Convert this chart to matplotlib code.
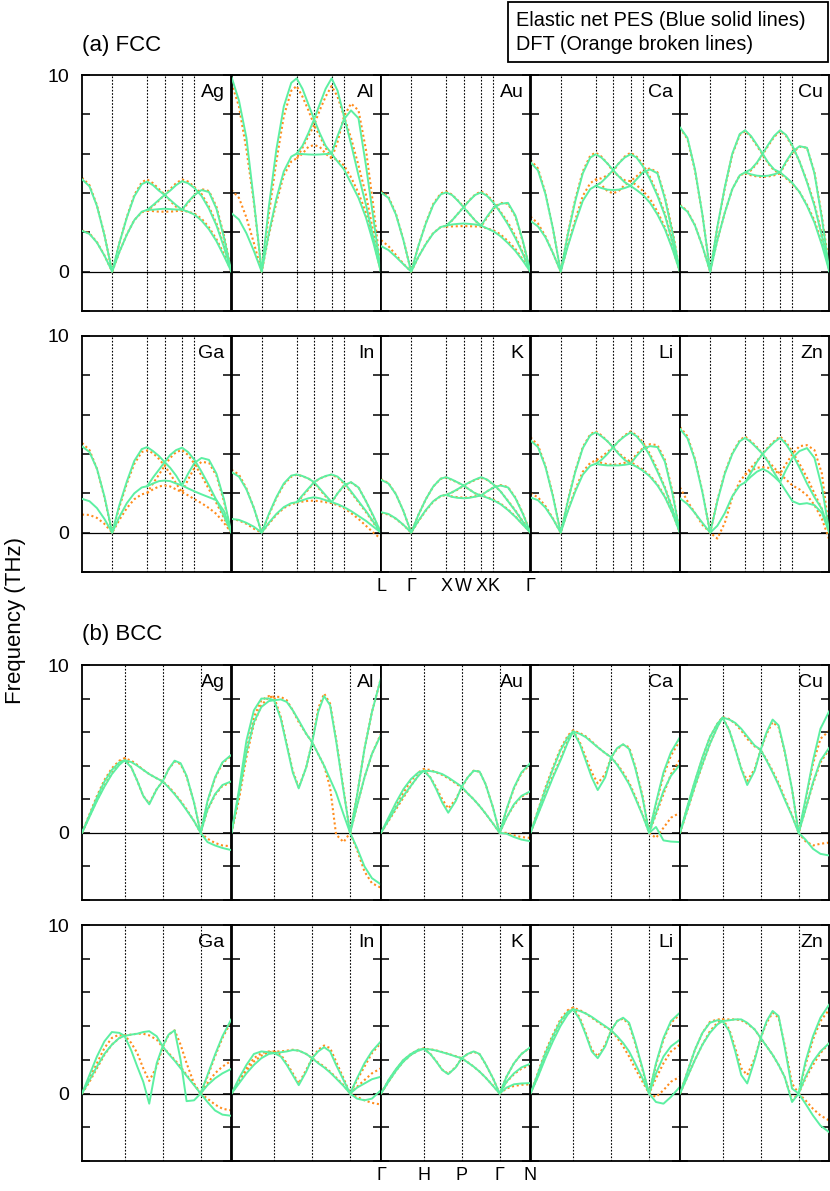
import matplotlib
matplotlib.use("Agg")
import matplotlib.pyplot as plt
import numpy as np
from matplotlib.patches import Rectangle

plt.rcParams["font.family"] = ["Liberation Sans", "DejaVu Sans"]

# k-path positions (fraction of the path length) and labels
FCC_TICKS = [0.0, 0.202, 0.436, 0.553, 0.670, 0.753, 1.0]
FCC_LABELS = ["L", "Γ", "X", "W", "X", "K", "Γ"]
BCC_TICKS = [0.0, 0.285, 0.54, 0.794, 1.0]
BCC_LABELS = ["Γ", "H", "P", "Γ", "N"]

# sampled q positions: L-Γ | Γ-X | X-W-X | X-K-Γ
FCC_Q = [0.0, 0.05, 0.10, 0.15, 0.202,
         0.25, 0.30, 0.35, 0.40, 0.436,
         0.475, 0.515, 0.553, 0.59, 0.63, 0.67,
         0.71, 0.753, 0.80, 0.85, 0.90, 0.95, 1.0]
# Γ-H | H-P | P-Γ | Γ-N
BCC_Q = [0.0, 0.05, 0.10, 0.15, 0.20, 0.25, 0.285,
         0.33, 0.37, 0.41, 0.45, 0.50, 0.54,
         0.58, 0.62, 0.66, 0.70, 0.75, 0.794,
         0.84, 0.89, 0.94, 1.0]

# Frequencies (THz). Each entry: branch A, branch B (full path), branch C (from X / from Γ->N)
FCC_AG_EN = [
    [4.7, 4.34, 3.34, 1.86, 0, 1.45, 2.75, 3.83, 4.45, 4.58, 4.40, 4.12, 3.9, 3.65, 3.38, 3.15, 3.55, 3.9, 4.15, 4.05, 3.2, 1.75, 0],
    [2.08, 1.92, 1.48, 0.82, 0, 1.0, 1.88, 2.62, 3.05, 3.14, 3.38, 3.65, 3.9, 4.12, 4.40, 4.6, 4.5, 4.25, 3.85, 3.2, 2.35, 1.25, 0],
    [3.14, 3.15, 3.18, 3.2, 3.18, 3.16, 3.15, 3.05, 2.9, 2.6, 2.15, 1.55, 0.8, 0],
]
FCC_AG_DFT = [
    [4.78, 4.4, 3.38, 1.88, 0, 1.45, 2.78, 3.9, 4.55, 4.69, 4.5, 4.2, 3.92, 3.6, 3.3, 3.1, 3.5, 3.9, 4.2, 4.1, 3.3, 1.85, 0],
    [2.1, 1.95, 1.5, 0.83, 0, 1.0, 1.9, 2.62, 3.02, 3.1, 3.33, 3.62, 3.92, 4.2, 4.5, 4.69, 4.58, 4.3, 3.95, 3.3, 2.45, 1.35, 0],
    [3.1, 3.08, 3.05, 3.05, 3.05, 3.08, 3.1, 3.05, 2.95, 2.7, 2.25, 1.65, 0.9, 0],
]
FCC_AL_EN = [
    [9.9, 8.7, 6.8, 3.6, 0, 3.3, 6.2, 8.4, 9.6, 9.83, 9.3, 8.5, 7.75, 7.05, 6.4, 6.0, 6.9, 7.75, 8.2, 7.8, 5.4, 2.7, 0],
    [2.97, 2.65, 1.95, 1.05, 0, 1.95, 3.7, 5.1, 5.85, 6.0, 6.4, 7.05, 7.75, 8.5, 9.3, 9.83, 9.2, 7.9, 6.5, 4.9, 3.4, 1.7, 0],
    [6.0, 5.98, 5.96, 5.95, 5.96, 5.98, 6.0, 5.6, 5.2, 4.5, 3.75, 2.75, 1.45, 0],
]
FCC_AL_DFT = [
    [9.58, 8.4, 6.2, 3.5, 0, 2.9, 5.6, 7.9, 9.2, 9.44, 8.9, 8.2, 7.46, 6.9, 6.3, 5.76, 6.6, 7.9, 8.55, 8.2, 6.2, 3.3, 0],
    [4.15, 3.75, 2.75, 1.45, 0, 1.85, 3.5, 4.9, 5.6, 5.76, 6.3, 6.9, 7.46, 8.2, 8.9, 9.44, 8.9, 7.9, 6.8, 5.4, 3.9, 2.0, 0],
    [5.76, 6.0, 6.35, 6.44, 6.35, 6.0, 5.76, 5.7, 5.4, 4.8, 4.0, 3.0, 1.6, 0],
]
FCC_AU_EN = [
    [4.03, 3.75, 2.9, 1.6, 0, 1.3, 2.45, 3.4, 3.93, 4.03, 3.9, 3.6, 3.27, 2.95, 2.6, 2.34, 2.8, 3.25, 3.45, 3.5, 2.85, 1.55, 0],
    [1.3, 1.1, 0.75, 0.38, 0, 0.75, 1.4, 1.95, 2.27, 2.34, 2.6, 2.95, 3.27, 3.6, 3.9, 4.03, 3.85, 3.5, 3.0, 2.4, 1.7, 0.9, 0],
    [2.34, 2.4, 2.43, 2.45, 2.43, 2.4, 2.34, 2.2, 2.05, 1.8, 1.45, 1.05, 0.55, 0],
]
FCC_AU_DFT = [
    [4.1, 3.8, 2.95, 1.62, 0, 1.3, 2.48, 3.45, 3.98, 4.08, 3.92, 3.62, 3.3, 2.95, 2.6, 2.3, 2.75, 3.2, 3.5, 3.45, 2.8, 1.5, 0],
    [1.6, 1.3, 0.85, 0.4, 0, 0.75, 1.42, 1.97, 2.27, 2.32, 2.6, 2.95, 3.3, 3.62, 3.92, 4.08, 3.9, 3.55, 3.05, 2.5, 1.8, 0.95, 0],
    [2.29, 2.3, 2.31, 2.32, 2.31, 2.3, 2.29, 2.2, 2.1, 1.9, 1.55, 1.15, 0.6, 0],
]
FCC_CA_EN = [
    [5.56, 5.15, 3.95, 2.2, 0, 1.9, 3.6, 5.0, 5.8, 5.97, 5.8, 5.5, 5.17, 4.85, 4.55, 4.36, 4.7, 5.05, 5.2, 5.0, 3.7, 2.0, 0],
    [2.58, 2.3, 1.75, 0.95, 0, 1.3, 2.5, 3.6, 4.2, 4.36, 4.55, 4.85, 5.17, 5.5, 5.8, 5.97, 5.8, 5.35, 4.7, 3.85, 2.85, 1.5, 0],
    [4.36, 4.25, 4.17, 4.15, 4.17, 4.25, 4.36, 4.15, 3.9, 3.5, 2.9, 2.15, 1.15, 0],
]
FCC_CA_DFT = [
    [5.68, 5.25, 4.0, 2.2, 0, 1.95, 3.7, 5.1, 5.9, 6.05, 5.85, 5.5, 5.1, 4.85, 4.65, 4.6, 4.85, 5.15, 5.25, 5.05, 3.8, 2.1, 0],
    [2.8, 2.45, 1.8, 0.95, 0, 1.35, 2.65, 3.85, 4.5, 4.69, 4.75, 4.9, 5.1, 5.5, 5.85, 6.05, 5.85, 5.45, 4.8, 3.95, 2.95, 1.6, 0],
    [4.69, 4.4, 4.1, 3.98, 4.1, 4.4, 4.6, 4.4, 4.1, 3.7, 3.05, 2.25, 1.2, 0],
]
FCC_CU_EN = [
    [7.34, 6.8, 5.2, 2.9, 0, 2.28, 4.3, 6.0, 7.0, 7.19, 6.9, 6.45, 6.0, 5.55, 5.2, 5.05, 5.6, 6.1, 6.38, 6.3, 5.0, 2.7, 0],
    [3.36, 3.05, 2.35, 1.3, 0, 1.6, 3.0, 4.2, 4.9, 5.05, 5.2, 5.55, 6.0, 6.45, 6.9, 7.19, 6.95, 6.4, 5.6, 4.55, 3.35, 1.8, 0],
    [5.05, 4.95, 4.88, 4.86, 4.88, 4.95, 5.05, 4.8, 4.5, 4.05, 3.35, 2.5, 1.35, 0],
]
FCC_CU_DFT = [
    [7.3, 6.75, 5.15, 2.9, 0, 2.25, 4.25, 5.95, 6.95, 7.15, 6.85, 6.4, 5.95, 5.5, 5.15, 5.0, 5.55, 6.05, 6.35, 6.3, 5.05, 2.8, 0.2],
    [3.4, 3.08, 2.37, 1.3, 0, 1.6, 3.0, 4.2, 4.9, 5.0, 5.15, 5.5, 5.95, 6.4, 6.85, 7.15, 6.9, 6.35, 5.6, 4.6, 3.45, 1.9, 0.2],
    [5.0, 4.9, 4.84, 4.82, 4.84, 4.9, 5.0, 4.75, 4.45, 4.05, 3.4, 2.6, 1.45, 0.2],
]
FCC_GA_EN = [
    [4.39, 4.1, 3.25, 1.85, 0, 1.4, 2.6, 3.65, 4.25, 4.35, 4.15, 3.9, 3.59, 3.3, 2.9, 2.4, 3.0, 3.55, 3.8, 3.7, 3.0, 1.7, 0],
    [1.72, 1.6, 1.25, 0.7, 0, 0.8, 1.5, 2.0, 2.3, 2.36, 2.8, 3.2, 3.59, 3.95, 4.2, 4.32, 4.1, 3.7, 3.1, 2.4, 1.65, 0.85, 0],
    [2.36, 2.5, 2.62, 2.65, 2.62, 2.5, 2.4, 2.25, 2.1, 1.95, 1.8, 1.65, 1.1, 0],
]
FCC_GA_DFT = [
    [4.56, 4.2, 3.25, 1.8, 0, 1.3, 2.5, 3.5, 4.1, 4.18, 4.05, 3.75, 3.4, 3.0, 2.5, 2.05, 2.7, 3.3, 3.6, 3.55, 2.9, 1.6, 0],
    [0.92, 0.9, 0.75, 0.45, 0, 0.65, 1.25, 1.7, 1.95, 2.02, 2.5, 2.95, 3.4, 3.8, 4.1, 4.2, 3.95, 3.5, 2.9, 2.2, 1.5, 0.75, 0],
    [2.02, 2.2, 2.35, 2.4, 2.35, 2.2, 2.05, 1.9, 1.7, 1.5, 1.25, 0.95, 0.5, 0],
]
FCC_IN_EN = [
    [3.08, 2.85, 2.2, 1.25, 0, 0.95, 1.8, 2.5, 2.9, 2.96, 2.88, 2.75, 2.57, 2.25, 1.9, 1.55, 2.0, 2.4, 2.57, 2.3, 1.6, 0.85, 0],
    [0.7, 0.65, 0.5, 0.3, 0, 0.5, 0.95, 1.3, 1.5, 1.55, 1.9, 2.25, 2.57, 2.75, 2.88, 2.96, 2.85, 2.55, 2.1, 1.6, 1.1, 0.55, 0],
    [1.55, 1.65, 1.75, 1.8, 1.75, 1.65, 1.55, 1.45, 1.3, 1.1, 0.85, 0.6, 0.3, 0],
]
FCC_IN_DFT = [
    [3.2, 2.95, 2.25, 1.25, 0, 0.9, 1.75, 2.45, 2.85, 2.95, 2.87, 2.75, 2.55, 2.2, 1.85, 1.52, 2.0, 2.4, 2.55, 2.3, 1.6, 0.8, 0],
    [0.7, 0.62, 0.45, 0.2, 0, 0.45, 0.9, 1.25, 1.45, 1.52, 1.85, 2.2, 2.55, 2.75, 2.87, 2.95, 2.8, 2.5, 2.05, 1.55, 1.05, 0.5, 0],
    [1.52, 1.58, 1.62, 1.63, 1.6, 1.55, 1.5, 1.4, 1.25, 1.0, 0.7, 0.35, 0.0, -0.32],
]
FCC_K_EN = [
    [2.69, 2.5, 1.95, 1.1, 0, 0.9, 1.7, 2.35, 2.75, 2.82, 2.7, 2.55, 2.4, 2.2, 2.0, 1.89, 2.1, 2.3, 2.4, 2.3, 1.75, 0.95, 0],
    [1.04, 0.95, 0.72, 0.4, 0, 0.6, 1.15, 1.6, 1.87, 1.92, 2.05, 2.22, 2.4, 2.55, 2.7, 2.82, 2.7, 2.45, 2.1, 1.6, 1.1, 0.55, 0],
    [1.92, 1.82, 1.77, 1.75, 1.77, 1.83, 1.89, 1.78, 1.65, 1.45, 1.15, 0.8, 0.4, 0],
]
FCC_K_DFT = [
    [2.72, 2.52, 1.96, 1.1, 0, 0.9, 1.7, 2.35, 2.74, 2.8, 2.68, 2.54, 2.38, 2.2, 2.0, 1.9, 2.1, 2.3, 2.42, 2.32, 1.78, 0.98, 0],
    [1.0, 0.92, 0.7, 0.39, 0, 0.58, 1.12, 1.58, 1.86, 1.92, 2.05, 2.2, 2.38, 2.54, 2.68, 2.8, 2.68, 2.45, 2.1, 1.62, 1.12, 0.57, 0],
    [1.92, 1.84, 1.8, 1.78, 1.8, 1.85, 1.9, 1.8, 1.68, 1.48, 1.18, 0.82, 0.42, 0],
]
FCC_LI_EN = [
    [4.69, 4.35, 3.35, 1.85, 0, 1.6, 3.1, 4.3, 4.95, 5.1, 4.9, 4.65, 4.34, 4.0, 3.7, 3.5, 3.9, 4.25, 4.4, 4.35, 3.6, 2.0, 0],
    [1.79, 1.65, 1.27, 0.7, 0, 1.1, 2.1, 2.95, 3.4, 3.5, 3.7, 4.0, 4.34, 4.65, 4.9, 5.1, 4.9, 4.5, 3.9, 3.1, 2.25, 1.2, 0],
    [3.5, 3.45, 3.42, 3.42, 3.42, 3.45, 3.5, 3.35, 3.15, 2.85, 2.4, 1.8, 1.0, 0],
]
FCC_LI_DFT = [
    [4.85, 4.45, 3.4, 1.9, 0, 1.65, 3.15, 4.35, 5.0, 5.15, 4.95, 4.65, 4.35, 4.05, 3.8, 3.6, 4.0, 4.3, 4.5, 4.45, 3.7, 2.1, 0],
    [2.0, 1.8, 1.35, 0.72, 0, 1.15, 2.2, 3.1, 3.55, 3.67, 3.85, 4.1, 4.35, 4.65, 4.95, 5.15, 4.95, 4.6, 4.0, 3.2, 2.3, 1.25, 0],
    [3.67, 3.55, 3.48, 3.45, 3.48, 3.55, 3.6, 3.4, 3.2, 2.9, 2.45, 1.85, 1.0, 0],
]
FCC_ZN_EN = [
    [5.28, 4.8, 3.7, 2.05, 0, 1.6, 3.0, 4.0, 4.65, 4.82, 4.6, 4.3, 4.0, 3.6, 3.05, 2.56, 3.2, 3.8, 4.15, 4.3, 3.8, 2.3, 0],
    [1.75, 1.45, 1.0, 0.5, 0, 0.35, 1.0, 1.85, 2.4, 2.56, 3.05, 3.6, 4.0, 4.3, 4.6, 4.82, 4.5, 4.0, 3.3, 2.5, 1.8, 1.2, 0],
    [2.56, 2.85, 3.1, 3.24, 3.1, 2.85, 2.56, 2.1, 1.6, 1.45, 1.5, 1.4, 1.0, 0],
]
FCC_ZN_DFT = [
    [5.37, 4.9, 3.75, 2.1, 0, 1.65, 3.05, 4.05, 4.7, 4.89, 4.65, 4.35, 4.0, 3.65, 3.3, 2.99, 3.5, 4.0, 4.4, 4.45, 4.2, 3.0, 0],
    [2.3, 1.6, 1.0, 0.4, 0, -0.3, 0.5, 1.8, 2.6, 2.95, 3.3, 3.65, 4.0, 4.35, 4.65, 4.89, 4.6, 4.1, 3.5, 2.8, 2.0, 1.2, 0],
    [2.95, 3.15, 3.3, 3.33, 3.3, 3.15, 2.99, 2.7, 2.4, 2.2, 1.9, 1.4, 0.7, -0.37],
]

BCC_AG_EN = [
    [0, 1.05, 2.1, 3.05, 3.75, 4.2, 4.32, 4.22, 4.0, 3.75, 3.5, 3.25, 3.07, 2.7, 2.3, 1.85, 1.35, 0.7, 0, 1.9, 3.3, 4.2, 4.65],
    [0, 0.95, 1.9, 2.75, 3.5, 4.05, 4.32, 3.9, 3.1, 2.2, 1.7, 2.6, 3.07, 3.8, 4.3, 4.15, 3.4, 1.8, 0, 1.4, 2.3, 2.85, 3.07],
    [0, -0.55, -0.75, -0.9, -1.03],
]
BCC_AG_DFT = [
    [0, 1.1, 2.2, 3.15, 3.85, 4.3, 4.45, 4.3, 4.05, 3.75, 3.5, 3.25, 3.07, 2.75, 2.35, 1.9, 1.4, 0.7, 0, 1.85, 3.25, 4.15, 4.6],
    [0, 1.0, 1.95, 2.8, 3.55, 4.1, 4.45, 3.9, 3.1, 2.2, 1.75, 2.6, 3.07, 3.8, 4.25, 4.1, 3.35, 1.8, 0, 1.35, 2.25, 2.8, 3.0],
    [0, -0.35, -0.6, -0.75, -0.8],
]
BCC_AL_EN = [
    [0, 2.57, 5.5, 7.3, 8.0, 8.0, 7.9, 7.95, 7.8, 7.3, 6.7, 5.9, 5.4, 4.7, 4.0, 3.2, 2.4, 1.1, 0, 2.2, 5.0, 7.2, 9.2],
    [0, 2.3, 4.8, 6.6, 7.5, 7.85, 7.9, 6.8, 5.2, 3.6, 2.65, 3.9, 5.4, 7.2, 8.15, 7.6, 5.5, 2.5, 0, 1.6, 3.3, 4.7, 5.84],
    [0, -0.9, -2.0, -2.7, -3.07],
]
BCC_AL_DFT = [
    [0, 2.2, 4.9, 6.9, 7.9, 8.15, 8.1, 8.1, 7.9, 7.3, 6.6, 5.9, 5.4, 4.7, 4.0, 2.7, -0.1, -0.55, 0, 2.2, 5.0, 7.2, 9.2],
    [0, 2.0, 4.5, 6.5, 7.6, 8.1, 8.1, 6.9, 5.3, 3.7, 2.7, 3.9, 5.4, 7.4, 8.3, 7.7, 5.6, 2.6, 0, 1.6, 3.3, 4.7, 5.9],
    [0, -1.0, -2.3, -3.0, -3.27],
]
BCC_AU_EN = [
    [0, 0.9, 1.8, 2.6, 3.2, 3.6, 3.7, 3.68, 3.62, 3.5, 3.3, 3.0, 2.75, 2.35, 2.0, 1.6, 1.15, 0.55, 0, 1.4, 2.7, 3.6, 4.16],
    [0, 0.75, 1.5, 2.2, 2.8, 3.4, 3.7, 3.3, 2.6, 1.8, 1.2, 1.9, 2.75, 3.3, 3.7, 3.65, 2.9, 1.5, 0, 0.9, 1.7, 2.2, 2.48],
    [0, -0.05, -0.25, -0.4, -0.5],
]
BCC_AU_DFT = [
    [0, 0.8, 1.6, 2.4, 3.1, 3.6, 3.8, 3.75, 3.6, 3.45, 3.25, 2.95, 2.7, 2.35, 2.0, 1.6, 1.15, 0.55, 0, 1.35, 2.65, 3.55, 4.1],
    [0, 0.7, 1.4, 2.1, 2.8, 3.4, 3.8, 3.3, 2.7, 2.0, 1.45, 2.0, 2.7, 3.3, 3.7, 3.65, 2.9, 1.5, 0, 0.9, 1.65, 2.15, 2.45],
    [0, 0.0, -0.15, -0.25, -0.3],
]
BCC_CA_EN = [
    [0, 1.3, 2.6, 3.8, 4.9, 5.7, 6.04, 5.9, 5.7, 5.4, 5.1, 4.75, 4.5, 4.05, 3.5, 2.9, 2.1, 1.05, 0, 1.8, 3.6, 4.8, 5.7],
    [0, 1.1, 2.2, 3.3, 4.3, 5.4, 6.04, 5.3, 4.3, 3.3, 2.55, 3.3, 4.5, 5.05, 5.28, 5.0, 3.9, 2.1, 0, 1.2, 2.5, 3.4, 4.06],
    [0, 0.35, -0.45, -0.52, -0.55],
]
BCC_CA_DFT = [
    [0, 1.35, 2.7, 3.9, 5.0, 5.8, 6.1, 5.95, 5.75, 5.45, 5.1, 4.75, 4.5, 4.1, 3.6, 3.0, 2.2, 1.1, 0, 1.7, 3.4, 4.6, 5.5],
    [0, 1.15, 2.3, 3.4, 4.4, 5.5, 6.1, 5.4, 4.5, 3.6, 2.95, 3.5, 4.5, 5.0, 5.25, 5.1, 4.0, 2.2, 0, 1.1, 2.3, 3.5, 4.36],
    [0, -0.3, 0.3, 0.9, 1.2],
]
BCC_CU_EN = [
    [0, 1.6, 3.1, 4.5, 5.7, 6.5, 6.87, 6.75, 6.55, 6.2, 5.75, 5.2, 4.95, 4.3, 3.6, 2.85, 2.0, 1.0, 0, 2.0, 4.3, 6.2, 7.27],
    [0, 1.4, 2.8, 4.1, 5.3, 6.3, 6.87, 6.1, 5.0, 3.8, 2.85, 3.7, 4.95, 6.0, 6.75, 6.4, 4.9, 2.6, 0, 1.4, 3.0, 4.3, 5.09],
    [0, -0.4, -0.95, -1.25, -1.35],
]
BCC_CU_DFT = [
    [0, 1.55, 3.05, 4.45, 5.7, 6.5, 6.9, 6.78, 6.5, 6.1, 5.6, 5.15, 4.95, 4.35, 3.7, 2.95, 2.1, 1.05, 0, 1.9, 4.1, 5.6, 6.1],
    [0, 1.35, 2.75, 4.05, 5.3, 6.3, 6.9, 6.1, 5.0, 3.85, 3.1, 3.8, 4.95, 5.9, 6.6, 6.3, 4.85, 2.6, 0, 1.4, 2.9, 4.2, 5.0],
    [0, -0.5, -0.75, -0.65, -0.58],
]
BCC_GA_EN = [
    [0, 1.1, 2.2, 3.1, 3.65, 3.6, 3.42, 3.5, 3.55, 3.65, 3.7, 3.4, 2.8, 2.35, 1.95, 1.5, 1.05, 0.5, 0, 1.1, 2.3, 3.4, 4.42],
    [0, 0.8, 1.6, 2.35, 2.9, 3.3, 3.42, 2.55, 1.6, 0.7, -0.6, 1.8, 2.8, 3.5, 3.75, 2.0, -0.45, -0.4, 0, 0.5, 0.9, 1.2, 1.47],
    [0, -0.5, -1.0, -1.25, -1.32],
]
BCC_GA_DFT = [
    [0, 0.9, 1.8, 2.7, 3.3, 3.5, 3.45, 3.5, 3.55, 3.55, 3.45, 3.2, 2.75, 2.4, 2.0, 1.6, 1.1, 0.55, 0, 1.0, 2.2, 3.3, 4.3],
    [0, 0.7, 1.5, 2.3, 2.9, 3.3, 3.45, 3.0, 2.4, 1.5, 0.75, 1.6, 2.75, 3.5, 3.75, 2.9, 1.8, 0.6, 0, 0.6, 1.2, 1.6, 1.95],
    [0, -0.3, -0.65, -0.9, -1.0],
]
BCC_IN_EN = [
    [0, 0.9, 1.7, 2.35, 2.5, 2.45, 2.4, 2.45, 2.5, 2.58, 2.55, 2.35, 2.1, 1.8, 1.55, 1.25, 0.9, 0.45, 0, 0.9, 1.8, 2.5, 3.1],
    [0, 0.6, 1.2, 1.7, 2.1, 2.35, 2.4, 2.2, 1.7, 1.1, 0.5, 1.3, 2.1, 2.5, 2.75, 2.5, 1.7, 0.8, 0, 0.35, 0.6, 0.85, 1.0],
    [0, -0.3, -0.4, -0.3, 0.2],
]
BCC_IN_DFT = [
    [0, 0.8, 1.5, 2.1, 2.4, 2.5, 2.5, 2.5, 2.55, 2.6, 2.55, 2.35, 2.1, 1.85, 1.6, 1.3, 0.95, 0.5, 0, 0.8, 1.6, 2.4, 3.0],
    [0, 0.7, 1.35, 1.9, 2.25, 2.45, 2.5, 2.3, 1.8, 1.2, 0.6, 1.4, 2.1, 2.6, 2.85, 2.7, 1.9, 0.9, 0, 0.4, 0.8, 1.2, 1.5],
    [0, -0.2, -0.4, -0.55, -0.65],
]
BCC_K_EN = [
    [0, 0.8, 1.45, 2.0, 2.35, 2.6, 2.65, 2.62, 2.55, 2.45, 2.35, 2.2, 2.1, 1.85, 1.6, 1.3, 0.95, 0.45, 0, 1.0, 1.8, 2.35, 2.75],
    [0, 0.7, 1.35, 1.9, 2.3, 2.55, 2.65, 2.35, 1.9, 1.4, 1.15, 1.55, 2.1, 2.35, 2.5, 2.35, 1.75, 0.9, 0, 0.7, 1.2, 1.55, 1.77],
    [0, 0.35, 0.55, 0.6, 0.62],
]
BCC_K_DFT = [
    [0, 0.78, 1.42, 1.98, 2.35, 2.6, 2.67, 2.63, 2.56, 2.46, 2.36, 2.22, 2.1, 1.86, 1.6, 1.3, 0.95, 0.47, 0, 1.0, 1.8, 2.35, 2.75],
    [0, 0.7, 1.35, 1.9, 2.3, 2.55, 2.67, 2.36, 1.92, 1.42, 1.17, 1.57, 2.1, 2.35, 2.48, 2.33, 1.75, 0.9, 0, 0.68, 1.15, 1.48, 1.7],
    [0, 0.3, 0.45, 0.52, 0.55],
]
BCC_LI_EN = [
    [0, 1.2, 2.4, 3.4, 4.3, 4.85, 5.0, 4.9, 4.75, 4.55, 4.3, 4.0, 3.75, 3.4, 3.0, 2.5, 1.8, 0.9, 0, 1.8, 3.3, 4.3, 4.8],
    [0, 1.0, 2.1, 3.1, 4.0, 4.7, 5.0, 4.4, 3.5, 2.5, 2.1, 2.8, 3.75, 4.3, 4.5, 4.2, 3.1, 1.5, 0, 1.2, 2.2, 2.8, 3.2],
    [0, -0.5, -0.6, -0.2, 0.4],
]
BCC_LI_DFT = [
    [0, 1.25, 2.5, 3.5, 4.4, 4.95, 5.1, 4.95, 4.75, 4.5, 4.25, 3.95, 3.75, 3.3, 2.8, 2.2, 1.5, 0.7, 0, 1.7, 3.2, 4.2, 4.7],
    [0, 1.05, 2.2, 3.2, 4.1, 4.8, 5.1, 4.5, 3.6, 2.6, 2.2, 2.9, 3.75, 4.3, 4.45, 4.1, 3.0, 1.4, 0, 0.9, 1.8, 2.5, 2.9],
    [0, -0.2, 0.2, 0.7, 1.0],
]
BCC_ZN_EN = [
    [0, 1.3, 2.6, 3.6, 4.2, 4.35, 4.3, 4.35, 4.4, 4.4, 4.2, 3.8, 3.3, 2.8, 2.3, 1.7, 1.0, -0.5, 0, 1.9, 3.4, 4.5, 5.3],
    [0, 1.0, 2.0, 2.9, 3.6, 4.1, 4.3, 3.7, 2.5, 1.1, 0.6, 2.0, 3.3, 4.3, 4.9, 4.6, 2.8, 0.3, 0, 1.0, 1.9, 2.5, 3.0],
    [0, -0.6, -1.3, -1.9, -2.3],
]
BCC_ZN_DFT = [
    [0, 1.3, 2.6, 3.6, 4.25, 4.4, 4.4, 4.4, 4.4, 4.35, 4.15, 3.8, 3.3, 2.8, 2.3, 1.7, 1.0, -0.4, 0, 1.7, 3.2, 4.3, 5.0],
    [0, 1.0, 2.0, 2.9, 3.7, 4.2, 4.4, 3.8, 2.7, 1.5, 1.1, 2.1, 3.3, 4.2, 4.8, 4.5, 2.9, 0.6, 0, 0.9, 1.7, 2.4, 3.0],
    [0, -0.4, -0.9, -1.3, -1.6],
]

ELEMENTS = ["Ag", "Al", "Au", "Ca", "Cu", "Ga", "In", "K", "Li", "Zn"]
FCC_EN = [FCC_AG_EN, FCC_AL_EN, FCC_AU_EN, FCC_CA_EN, FCC_CU_EN,
          FCC_GA_EN, FCC_IN_EN, FCC_K_EN, FCC_LI_EN, FCC_ZN_EN]
FCC_DFT = [FCC_AG_DFT, FCC_AL_DFT, FCC_AU_DFT, FCC_CA_DFT, FCC_CU_DFT,
           FCC_GA_DFT, FCC_IN_DFT, FCC_K_DFT, FCC_LI_DFT, FCC_ZN_DFT]
BCC_EN = [BCC_AG_EN, BCC_AL_EN, BCC_AU_EN, BCC_CA_EN, BCC_CU_EN,
          BCC_GA_EN, BCC_IN_EN, BCC_K_EN, BCC_LI_EN, BCC_ZN_EN]
BCC_DFT = [BCC_AG_DFT, BCC_AL_DFT, BCC_AU_DFT, BCC_CA_DFT, BCC_CU_DFT,
           BCC_GA_DFT, BCC_IN_DFT, BCC_K_DFT, BCC_LI_DFT, BCC_ZN_DFT]

GREEN = "#5cf0a2"
ORANGE = "#ff8c1c"
W_PX, H_PX = 830, 1191
PANEL_LEFT = [82, 231.5, 381, 530.5, 680]
PANEL_W = 149.4
# (top, bottom) of each row in pixels
ROWS = [(75, 311), (336, 572), (665, 900), (925, 1161)]
FS = 14


def add_panel(fig, row, col):
    top, bottom = ROWS[row]
    rect = [PANEL_LEFT[col] / W_PX, 1 - bottom / H_PX, PANEL_W / W_PX, (bottom - top) / H_PX]
    return fig.add_axes(rect)


def draw_branches(ax, q, lines, tail, color, dft):
    qa = np.asarray(q)
    if dft:
        kw = dict(color=color, lw=1.5, linestyle=(0, (1.0, 1.3)), zorder=2)
    else:
        kw = dict(color=color, lw=1.4, solid_capstyle="round", solid_joinstyle="round", zorder=3)
    ax.plot(qa, lines[0], **kw)
    ax.plot(qa, lines[1], **kw)
    ax.plot(qa[tail:], lines[2], **kw)


def style_panel(ax, name, ticks, ylim, first_col):
    ax.set_xlim(0, 1)
    ax.set_ylim(*ylim)
    for t in ticks[1:-1]:
        ax.axvline(t, color="black", lw=0.8, linestyle=(0, (1.5, 1.5)), zorder=1)
    ax.axhline(0, color="black", lw=0.9, zorder=1)
    yt = list(range(ylim[0], 11, 2))
    labels = ["0" if v == 0 else ("10" if v == 10 else "") for v in yt]
    ax.set_yticks(yt)
    if first_col:
        ax.set_yticklabels(labels, fontsize=FS)
    else:
        ax.set_yticklabels([])
    ax.tick_params(axis="y", direction="in", length=5.5, width=1.1, left=True, right=True, pad=9)
    ax.set_xticks([])
    for s in ax.spines.values():
        s.set_linewidth(1.3)
    ax.text(0.955, 0.96, name, transform=ax.transAxes, ha="right", va="top", fontsize=FS, zorder=5)


fig = plt.figure(figsize=(W_PX / 100, H_PX / 100), dpi=100)

for i, name in enumerate(ELEMENTS):
    row, col = divmod(i, 5)
    ax = add_panel(fig, row, col)
    draw_branches(ax, FCC_Q, FCC_DFT[i], 9, ORANGE, True)
    draw_branches(ax, FCC_Q, FCC_EN[i], 9, GREEN, False)
    style_panel(ax, name, FCC_TICKS, (-2, 10), col == 0)
    if row == 1 and col == 2:
        ax.set_xticks(FCC_TICKS)
        ax.set_xticklabels(FCC_LABELS, fontsize=13)
        ax.tick_params(axis="x", length=0, pad=4.5)

for i, name in enumerate(ELEMENTS):
    row, col = divmod(i, 5)
    ax = add_panel(fig, row + 2, col)
    draw_branches(ax, BCC_Q, BCC_DFT[i], 18, ORANGE, True)
    draw_branches(ax, BCC_Q, BCC_EN[i], 18, GREEN, False)
    style_panel(ax, name, BCC_TICKS, (-4, 10), col == 0)
    if row == 1 and col == 2:
        ax.set_xticks(BCC_TICKS)
        ax.set_xticklabels(BCC_LABELS, fontsize=13)
        ax.tick_params(axis="x", length=0, pad=4.5)

fig.text(82 / W_PX, 1 - 45 / H_PX, "(a) FCC", fontsize=16, ha="left", va="center")
fig.text(82 / W_PX, 1 - 634 / H_PX, "(b) BCC", fontsize=16, ha="left", va="center")
fig.text(16 / W_PX, 1 - 620 / H_PX, "Frequency (THz)", fontsize=16, rotation=90, ha="center", va="center")

fig.patches.append(Rectangle((508 / W_PX, 1 - 62 / H_PX), 320 / W_PX, 60 / H_PX,
                             transform=fig.transFigure, fill=False, edgecolor="black", lw=1.3))
fig.text(516 / W_PX, 1 - 20 / H_PX, "Elastic net PES (Blue solid lines)", fontsize=14.3, ha="left", va="center")
fig.text(516 / W_PX, 1 - 45 / H_PX, "DFT (Orange broken lines)", fontsize=14.3, ha="left", va="center")

fig.savefig("out.png", dpi=100)
